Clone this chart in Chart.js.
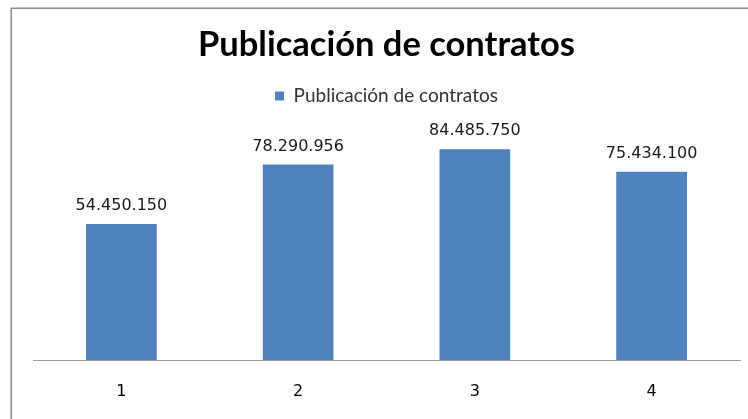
<!DOCTYPE html>
<html>
<head>
<meta charset="utf-8">
<script src="https://cdn.jsdelivr.net/npm/chart.js@4.4.1/dist/chart.umd.min.js"></script>
<style>
  html, body { margin: 0; padding: 0; background: #fff; overflow: hidden; }
  #wrap { position: absolute; left: 0; top: 0; width: 748px; height: 419px; }
</style>
</head>
<body>
<div id="wrap"><canvas id="c" width="748" height="419"></canvas></div>
<script>
const categories = ['1', '2', '3', '4'];
const seriesName = 'Publicación de contratos';
const values = [54450150, 78290956, 84485750, 75434100];
const chartTitle = 'Publicación de contratos';
const yMin = 0;
const yMax = 98000000;

function fmt(v) {
  return String(v).replace(/\B(?=(\d{3})+(?!\d))/g, '.');
}

const frame = {
  id: 'frame',
  beforeDraw(chart) {
    const ctx = chart.ctx;
    ctx.save();
    ctx.fillStyle = '#ffffff';
    ctx.fillRect(0, 0, chart.width, chart.height);
    ctx.strokeStyle = '#8a8a8a';
    ctx.lineWidth = 1.5;
    ctx.strokeRect(11.25, 8.25, 800, 500);
    ctx.restore();
  }
};

const dataLabels = {
  id: 'dataLabels',
  afterDatasetsDraw(chart) {
    const ctx = chart.ctx;
    ctx.save();
    ctx.font = '16px "DejaVu Sans"';
    ctx.fillStyle = '#1a1a1a';
    ctx.textAlign = 'center';
    ctx.textBaseline = 'alphabetic';
    chart.getDatasetMeta(0).data.forEach((bar, i) => {
      ctx.fillText(fmt(chart.data.datasets[0].data[i]), bar.x, bar.y - 14);
    });
    ctx.restore();
  }
};

new Chart(document.getElementById('c'), {
  type: 'bar',
  data: {
    labels: categories,
    datasets: [{
      label: seriesName,
      data: values,
      backgroundColor: '#4f81bd',
      borderWidth: 0,
      barPercentage: 0.4,
      categoryPercentage: 1.0
    }]
  },
  options: {
    responsive: false,
    animation: false,
    devicePixelRatio: 1,
    layout: { padding: { left: 33, right: 8, top: 0, bottom: 0 } },
    plugins: {
      title: {
        display: true,
        text: chartTitle,
        color: '#000',
        font: { family: 'Lato', size: 34.5, weight: 'bold', lineHeight: 1.2 },
        padding: { top: 24, bottom: 21 }
      },
      legend: {
        display: true,
        position: 'top',
        labels: {
          color: '#333',
          font: { family: 'Lato', size: 19 },
          boxWidth: 9,
          boxHeight: 9,
          padding: 0
        }
      },
      tooltip: { enabled: false }
    },
    scales: {
      x: {
        grid: { display: false, drawTicks: false },
        border: { display: true, color: '#9a9a9a', width: 1 },
        ticks: { color: '#000', font: { family: 'DejaVu Sans', size: 16 }, padding: 22 },
        afterFit(scale) { scale.height = 59; }
      },
      y: {
        display: false,
        min: yMin,
        max: yMax
      }
    }
  },
  plugins: [frame, dataLabels]
});
</script>
</body>
</html>
